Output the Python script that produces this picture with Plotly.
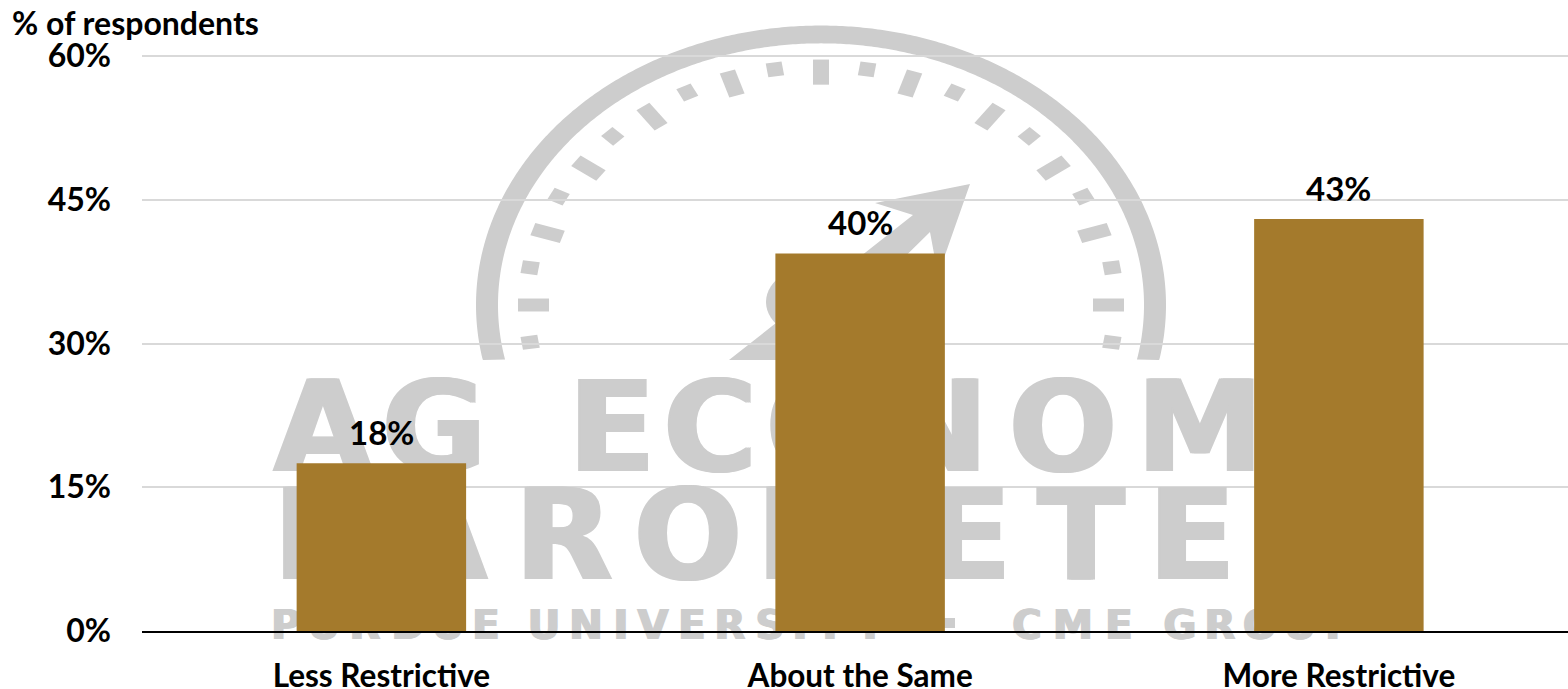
import math
import plotly.graph_objects as go

# ---------- chart data ----------
categories = ["Less Restrictive", "About the Same", "More Restrictive"]
shares = [17.5, 39.4, 43.0]
share_labels = ["18%", "40%", "43%"]
y_ticks = [0, 15, 30, 45, 60]
y_tick_labels = ["0%", "15%", "30%", "45%", "60%"]

# ---------- watermark text (letter, centre x in page pixels) ----------
wm_line1 = list("AGECONOMY")
wm_line1_x = [323, 434, 612, 710, 820, 935, 1063, 1200, 1340]
wm_line2 = list("BAROMETER")
wm_line2_x = [322, 438, 564, 688, 820, 968, 1081, 1192, 1300]
wm_line3 = list("PURDUEUNIVERSITYCMEGROUP")
wm_line3_x = [286, 324, 365, 408, 448, 486, 544, 586, 621, 653, 692, 730, 770, 800,
              830, 870, 1027, 1073, 1119, 1180, 1220, 1260, 1300, 1340]

W, H = 1568, 689
L, R, T, B = 142, 1568, 54, 631
FONT = "Lato, Carlito, Calibri, sans-serif"
WM = "#cdcdcd"
Y_TOP = (B - T) / (575 / 60)       # 60% sits at y = 56, just inside the plot area
X_TOP = -0.5 + (R - L) / 478.75    # the reference's last category runs off the picture


def px(x):
    return (x - L) / (R - L)


def py(y):
    return (B - y) / (B - T)


def poly(pts):
    return "M" + " L".join(f"{px(x):.5f},{py(y):.5f}" for x, y in pts) + " Z"


CX, CY, SQ = 821, 305, 0.81


def gauge(r, deg):
    a = math.radians(deg)
    return CX - r * math.cos(a), CY - SQ * r * math.sin(a)


def wm_shape(pts):
    return dict(type="path", path=poly(pts), xref="paper", yref="paper",
                fillcolor=WM, line=dict(width=0), layer="below")


shapes = []
outer = [gauge(345, d / 2) for d in range(-24, 385)]
inner = [gauge(323, d / 2) for d in range(384, -25, -1)]
ring = [(x, min(y, 360)) for x, y in outer + inner]
shapes.append(wm_shape(ring))
for i in range(-1, 22):
    deg = i * 9
    r0 = 272 if i % 2 == 0 else 286
    r1 = 303
    a = math.radians(deg)
    hw = 8
    dx, dy = math.sin(a) * hw, math.cos(a) * hw
    pts = []
    for r, s in ((r0, -1), (r1, -1), (r1, 1), (r0, 1)):
        x, y = gauge(r, deg)
        pts.append((x + s * dx, y - s * SQ * dy))
    shapes.append(wm_shape(pts))
needle = [(970, 184), (875, 203), (913, 215), (729, 360), (800, 360),
          (930, 232), (938, 275)]
shapes.append(wm_shape(needle))
hub = [(821 + 55 * math.cos(math.radians(d)), 302 + 38 * math.sin(math.radians(d)))
       for d in range(0, 360, 6)]
shapes.append(wm_shape(hub))
shapes.append(wm_shape([(938, 618), (955, 618), (955, 628), (938, 628)]))

fig = go.Figure()


def wm_trace(letters, xs, yc, size, fat, pos="middle center"):
    fig.add_trace(go.Scatter(
        x=xs, y=[yc] * len(xs), text=letters, mode="text", textposition=pos,
        textfont=dict(family="DejaVu Sans", size=size, color=WM, weight="bold",
                      shadow=f"{fat}px 0 0 {WM}, -{fat}px 0 0 {WM}"),
        cliponaxis=False, hoverinfo="skip", showlegend=False, xaxis="x", yaxis="y"))


wm_trace(wm_line1, wm_line1_x, 439, 127, 2)
wm_trace(wm_line2, wm_line2_x, 547, 127, 2)
wm_trace(wm_line3, wm_line3_x, 609, 40, 1, "bottom center")

fig.add_trace(go.Bar(
    x=categories, y=shares,
    marker=dict(color="#a47a2c", line=dict(width=0)), width=0.354,
    cliponaxis=False, hoverinfo="skip", showlegend=False, xaxis="x2", yaxis="y2"))

annotations = [dict(text=f"<b>{lab}</b>", x=c, y=v, xref="x2", yref="y2", showarrow=False,
                    xanchor="center", yanchor="middle", yshift=31,
                    font=dict(family=FONT, size=33, color="#000000"))
               for c, v, lab in zip(categories, shares, share_labels)]
annotations.append(dict(text="<b>% of respondents</b>", x=px(10), y=py(22),
                        xref="paper", yref="paper", showarrow=False,
                        xanchor="left", yanchor="middle",
                        font=dict(family=FONT, size=32, color="#000000")))

fig.update_layout(
    width=W, height=H, autosize=False,
    margin=dict(l=L, r=W - R, t=T, b=H - B, pad=0, autoexpand=False),
    paper_bgcolor="#ffffff", plot_bgcolor="rgba(0,0,0,0)",
    shapes=shapes, annotations=annotations,
    xaxis=dict(visible=False, range=[L, R], domain=[0, 1], fixedrange=True, automargin=False),
    yaxis=dict(visible=False, range=[B, T], domain=[0, 1], fixedrange=True, automargin=False),
    xaxis2=dict(overlaying="x", side="bottom", anchor="y2", type="category", automargin=False,
                range=[-0.5, X_TOP], showgrid=False, ticks="", showline=True,
                linecolor="#000000", linewidth=2, ticklabelstandoff=16,
                tickfont=dict(family=FONT, size=31.5, color="#000000", weight="bold")),
    yaxis2=dict(overlaying="y", side="left", anchor="x2", range=[0, Y_TOP], tickvals=y_ticks,
                ticktext=y_tick_labels, showgrid=True, gridcolor="#d9d9d9", gridwidth=1.5,
                zeroline=False, showline=False, ticks="", ticklabelstandoff=30, automargin=False,
                tickfont=dict(family=FONT, size=32, color="#000000", weight="bold")),
)

fig.write_html("out.html", config={"displayModeBar": False}, post_script=(
    "document.body.style.margin='0';"
    "document.documentElement.style.overflow='hidden';"))
